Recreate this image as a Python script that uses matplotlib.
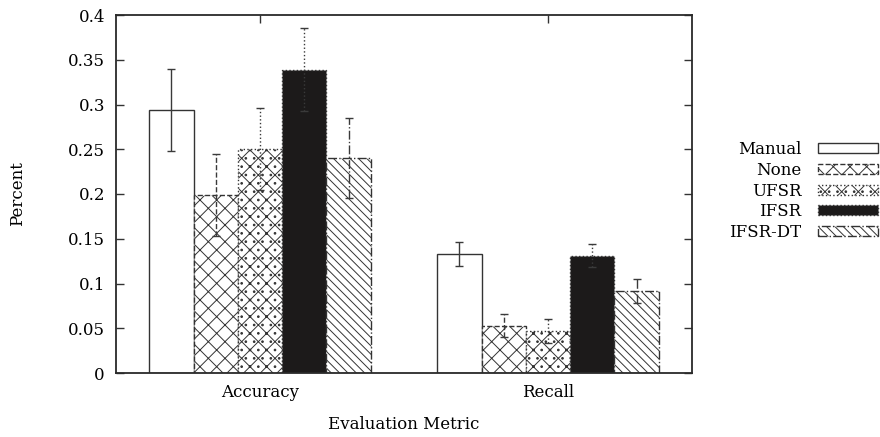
import matplotlib
matplotlib.use("Agg")
import matplotlib.pyplot as plt
import numpy as np

# Data
metrics = ["Accuracy", "Recall"]
methods = ["Manual", "None", "UFSR", "IFSR", "IFSR-DT"]
means = {
    "Manual":  [0.294, 0.133],
    "None":    [0.199, 0.053],
    "UFSR":    [0.250, 0.047],
    "IFSR":    [0.339, 0.131],
    "IFSR-DT": [0.240, 0.092],
}
errors = {
    "Manual":  [0.046, 0.013],
    "None":    [0.046, 0.013],
    "UFSR":    [0.046, 0.013],
    "IFSR":    [0.046, 0.013],
    "IFSR-DT": [0.045, 0.0135],
}
yticks = [0, 0.05, 0.1, 0.15, 0.2, 0.25, 0.3, 0.35, 0.4]
ytick_labels = ["0", "0.05", "0.1", "0.15", "0.2", "0.25", "0.3", "0.35", "0.4"]

# Styles per method
styles = {
    "Manual":  dict(fc="white",   hatch=None,     ls="-"),
    "None":    dict(fc="white",   hatch="xx",     ls="--"),
    "UFSR":    dict(fc="white",   hatch="xx..",   ls=":"),
    "IFSR":    dict(fc="#1c1a1a", hatch=None,     ls=":"),
    "IFSR-DT": dict(fc="white",   hatch="\\\\\\\\", ls="-."),
}

plt.rcParams["font.family"] = ["DejaVu Serif"]
plt.rcParams["hatch.linewidth"] = 0.7
plt.rcParams["hatch.color"] = "#222222"

FS = 12

fig = plt.figure(figsize=(8.8, 4.37), dpi=100)
ax = fig.add_axes([116 / 880, 1 - 373 / 437, (692 - 116) / 880, (373 - 15) / 437])

x = np.arange(len(metrics))
slot = 1 / 6.5
n = len(methods)
handles = []
for i, m in enumerate(methods):
    st = styles[m]
    pos = x + (i - (n - 1) / 2) * slot
    bars = ax.bar(pos, means[m], width=slot, facecolor=st["fc"], edgecolor="#333333",
                  hatch=st["hatch"], linestyle=st["ls"], linewidth=1.0, label=m, zorder=2)
    handles.append(bars)
    eb = ax.errorbar(pos, means[m], yerr=errors[m], fmt="none", ecolor="#3a3a3a",
                     elinewidth=1.0, capsize=3, capthick=1.0, zorder=3)
    eb[2][0].set_linestyle(st["ls"])

ax.set_xlim(-0.5, 1.5)
ax.set_ylim(0, 0.4)
ax.set_xticks(x)
ax.set_xticklabels(metrics, fontsize=FS)
ax.set_yticks(yticks)
ax.set_yticklabels(ytick_labels, fontsize=FS)
ax.tick_params(direction="in", length=6, width=1.0, color="#333333",
               top=True, right=True, pad=8)
for sp in ax.spines.values():
    sp.set_linewidth(1.3)
    sp.set_color("#2a2a2a")

ax.set_ylabel("Percent", fontsize=FS, labelpad=30)
ax.set_xlabel("Evaluation Metric", fontsize=FS, labelpad=11)

leg = fig.legend(handles=handles, labels=methods, loc="center right",
                 bbox_to_anchor=(878 / 880, 1 - 191 / 437), frameon=False,
                 markerfirst=False, fontsize=FS, handlelength=3.6, handleheight=0.55,
                 handletextpad=1.0, labelspacing=0.22, borderpad=0, borderaxespad=0)

fig.savefig("out.png", dpi=100)
